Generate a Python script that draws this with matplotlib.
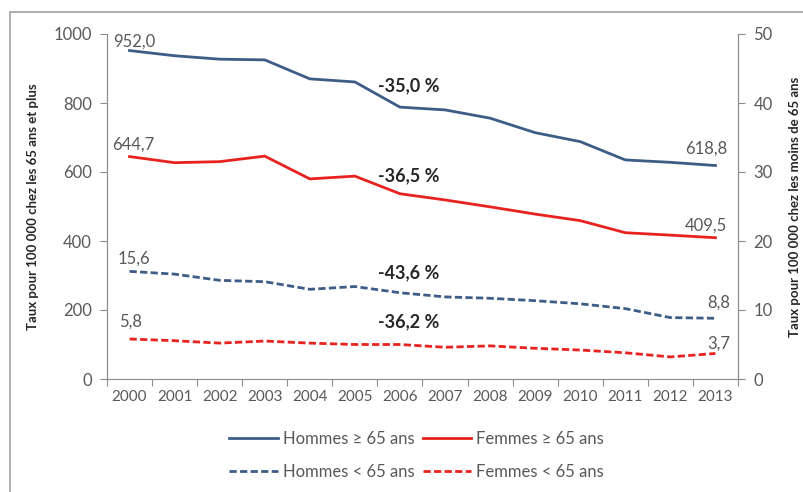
import matplotlib
matplotlib.use("Agg")
import matplotlib.pyplot as plt
from matplotlib.patches import Rectangle

plt.rcParams['font.family'] = ['Lato', 'DejaVu Sans']

years = [str(y) for y in range(2000, 2014)]
hommes_65plus = [952.0, 937, 927, 925, 870, 861, 788, 780, 756, 714, 688, 635, 628, 618.8]
femmes_65plus = [644.7, 627, 630, 646, 580, 588, 537, 519, 499, 478, 459, 424, 417, 409.5]
hommes_moins65 = [15.6, 15.2, 14.3, 14.1, 13.0, 13.4, 12.5, 11.9, 11.7, 11.35, 10.9, 10.2, 8.9, 8.8]
femmes_moins65 = [5.8, 5.55, 5.2, 5.5, 5.2, 5.0, 5.0, 4.6, 4.8, 4.45, 4.2, 3.8, 3.2, 3.7]
variations = ["-35,0 %", "-36,5 %", "-43,6 %", "-36,2 %"]
var_pos = [849, 588, 307, 165]

BLUE = "#3d5d87"
RED = "#e8231f"
GREY = "#8c8c8c"
TXT = "#595959"

def fr(v):
    return f"{v:.1f}".replace(".", ",")

fig = plt.figure(figsize=(8.04, 4.92), dpi=100)
fig.patches.append(Rectangle((10 / 804, -0.1), 1.2, 1 - 12 / 492 + 0.1,
                             transform=fig.transFigure, fill=False,
                             edgecolor="#a0a0a0", linewidth=1.2))

ax = fig.add_axes([107 / 804, 1 - 379 / 492, 631 / 804, 345 / 492])
ax2 = ax.twinx()
x = list(range(len(years)))

dash = (0, (2.6, 1.2))
l1, = ax.plot(x, hommes_65plus, color=BLUE, lw=2, label="Hommes ≥ 65 ans")
l2, = ax.plot(x, femmes_65plus, color=RED, lw=2, label="Femmes ≥ 65 ans")
l3, = ax2.plot(x, hommes_moins65, color=BLUE, lw=2, ls=dash, label="Hommes < 65 ans")
l4, = ax2.plot(x, femmes_moins65, color=RED, lw=2, ls=dash, label="Femmes < 65 ans")

ax.set_xlim(-0.5, len(years) - 0.5)
ax.set_ylim(0, 1000)
ax2.set_ylim(0, 50)
ax.set_yticks(range(0, 1001, 200))
ax2.set_yticks(range(0, 51, 10))
ax.set_xticks([i - 0.5 for i in range(len(years) + 1)])
ax.set_xticklabels([])
ax.set_xticks(x, minor=True)
ax.set_xticklabels(years, minor=True)
ax.tick_params(axis="x", which="major", length=5, color=GREY, direction="out")
ax.tick_params(axis="x", which="minor", length=0, labelsize=11, labelcolor=TXT, pad=8)
ax.tick_params(axis="y", length=5, color=GREY, labelsize=12, labelcolor=TXT, pad=6)
ax2.tick_params(axis="y", length=5, color=GREY, labelsize=12, labelcolor=TXT, pad=6)

for a in (ax, ax2):
    a.spines["top"].set_visible(False)
    for s in ("left", "right", "bottom"):
        a.spines[s].set_color(GREY)
ax2.spines["bottom"].set_visible(False)

ax.set_ylabel("Taux pour 100 000 chez les 65 ans et plus", fontsize=9.5,
              fontweight="bold", color="#262626", labelpad=10)
ax2.set_ylabel("Taux pour 100 000 chez les moins de 65 ans", fontsize=9.5,
               fontweight="bold", color="#262626", rotation=90, labelpad=12)

lab = dict(fontsize=12, color=TXT, textcoords="offset pixels", va="center")
ax.annotate(fr(hommes_65plus[0]), (0, hommes_65plus[0]), xytext=(-16, 9), ha="left", **lab)
ax.annotate(fr(femmes_65plus[0]), (0, femmes_65plus[0]), xytext=(-17, 12), ha="left", **lab)
ax2.annotate(fr(hommes_moins65[0]), (0, hommes_moins65[0]), xytext=(-12, 13), ha="left", **lab)
ax2.annotate(fr(femmes_moins65[0]), (0, femmes_moins65[0]), xytext=(-10, 17), ha="left", **lab)
ax.annotate(fr(hommes_65plus[-1]), (13, hommes_65plus[-1]), xytext=(12, 17), ha="right", **lab)
ax.annotate(fr(femmes_65plus[-1]), (13, femmes_65plus[-1]), xytext=(12, 12), ha="right", **lab)
ax2.annotate(fr(hommes_moins65[-1]), (13, hommes_moins65[-1]), xytext=(15, 16), ha="right", **lab)
ax2.annotate(fr(femmes_moins65[-1]), (13, femmes_moins65[-1]), xytext=(15, 10), ha="right", **lab)

for txt, yv in zip(variations, var_pos):
    ax.text(6.2, yv, txt, ha="center", va="center", fontsize=13,
            fontweight="bold", color="#262626")

fig.legend([l1, l3, l2, l4], [l.get_label() for l in (l1, l3, l2, l4)],
           ncol=2, frameon=False, loc="center", bbox_to_anchor=(0.518, 0.074),
           fontsize=12, labelcolor=TXT, handlelength=2.9, handletextpad=0.3,
           columnspacing=0.5, labelspacing=1.0)

fig.savefig("out.png", dpi=100)
